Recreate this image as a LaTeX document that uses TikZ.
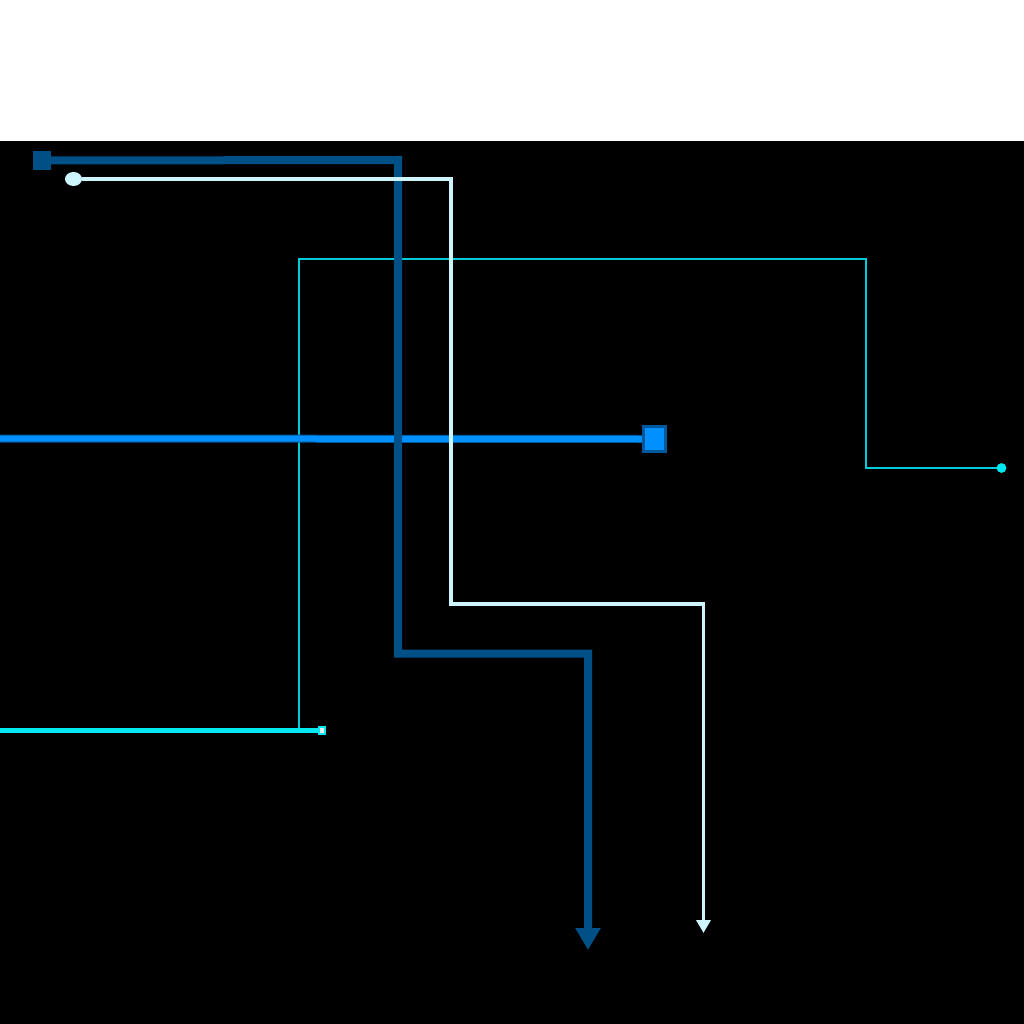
\documentclass[tikz,border=0pt]{standalone}
\usetikzlibrary{arrows.meta,shapes.geometric}
\definecolor{dblue}{HTML}{005088}
\definecolor{bblue}{HTML}{0090FF}
\definecolor{bborder}{HTML}{00589C}
\definecolor{lcyan}{HTML}{CCF5FF}
\definecolor{tcyan}{HTML}{00E8F0}
\definecolor{thincyan}{HTML}{00CCD8}
\tikzset{
  dbline/.style={draw=dblue,line width=8pt,line join=miter,-{Triangle[width=24pt,length=22pt]}},
  lline/.style={draw=lcyan,line width=3.5pt,line join=miter,-{Triangle[width=14pt,length=13pt]}},
  thinline/.style={draw=thincyan,line width=1.3pt},
  bline/.style={draw=bblue,line width=6pt},
  bbord/.style={draw=bborder,line width=8pt},
  tline/.style={draw=tcyan,line width=5pt},
  dbsq/.style={rectangle,fill=dblue,minimum width=18pt,minimum height=19pt,inner sep=0pt},
  lel/.style={ellipse,fill=lcyan,minimum width=17pt,minimum height=14pt,inner sep=0pt},
  bsq/.style={rectangle,draw=bborder,line width=3pt,fill=bblue,minimum width=22pt,minimum height=25pt,inner sep=0pt},
  csq/.style={rectangle,draw=tcyan,line width=2pt,fill=white!85!gray,minimum width=6pt,minimum height=7pt,inner sep=0pt},
  cdot/.style={circle,fill=tcyan,minimum size=9.5pt,inner sep=0pt},
}
\begin{document}
\begin{tikzpicture}[x=1pt,y=-1pt]
\useasboundingbox (0,0) rectangle (1024,1024);
\fill[white] (0,0) rectangle (1024,141);
\fill[black] (0,141) rectangle (1024,1024);
% coordinates
\coordinate (lb) at (0,438.5);
\coordinate (lc) at (0,730);
\coordinate (c0) at (299,730);
\coordinate (c1) at (299,259);
\coordinate (c2) at (866,259);
\coordinate (c3) at (866,468);
\coordinate (a1) at (398,160);
\coordinate (a2) at (398,653.5);
\coordinate (a3) at (588,653.5);
\coordinate (a4) at (588,950);
\coordinate (b1) at (451,179);
\coordinate (b2) at (451,604);
\coordinate (b3) at (703.5,604);
\coordinate (b4) at (703.5,933);
% nodes
\node[dbsq] (s1) at (42,160.5) {};
\node[lel] (e1) at (73.5,179) {};
\node[bsq] (s2) at (654.5,439) {};
\node[csq] (s3) at (322,730) {};
\node[cdot] (d1) at (1001.5,468) {};
% connectors
\draw[thinline] (c0) -- (c1) -- (c2) -- (c3) -- (d1.center);
\draw[bbord] (lb) -- (s2.west);
\draw[bline] (lb) -- (s2.west);
\draw[dbline] (s1.east) -- (a1) -- (a2) -- (a3) -- (a4);
\draw[lline] (e1.east) -- (b1) -- (b2) -- (b3) -- (b4);
\draw[tline] (lc) -- (s3.west);
\node[csq] at (s3) {};
\node[cdot] at (d1) {};
\node[bsq] at (s2) {};
\end{tikzpicture}
\end{document}
